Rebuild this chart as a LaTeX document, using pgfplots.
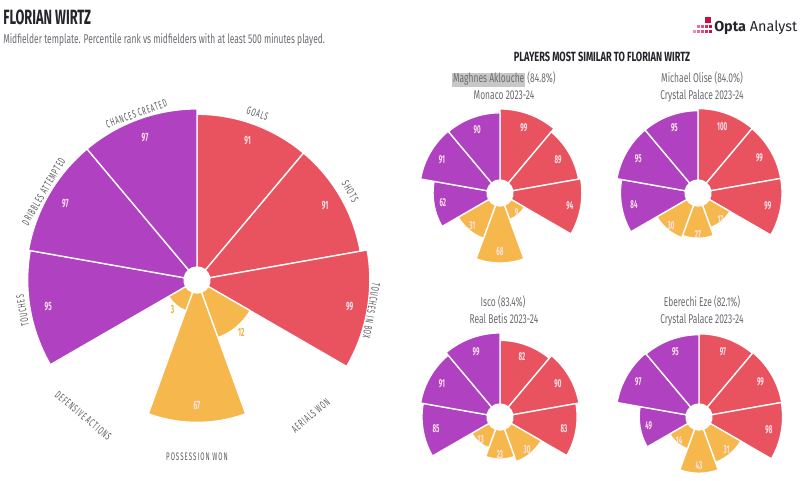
\documentclass[border=0pt]{standalone}
\usepackage{pgfplots}
\pgfplotsset{compat=1.18}
\usepackage{pgfplotstable}
\usepackage{fontspec}
\setmainfont{Fira Sans}
\newfontfamily\condf[FakeStretch=0.66]{Fira Sans}
\newfontfamily\boldf[FakeStretch=0.62]{Fira Sans}
\newfontfamily\hdf[FakeStretch=0.69]{Fira Sans}
\newfontfamily\numf[FakeStretch=0.54]{Fira Sans}
\newfontfamily\catf[FakeStretch=0.56, LetterSpace=9, Kerning=Off]{Fira Sans}
\definecolor{wred}{HTML}{E9535F}
\definecolor{wpur}{HTML}{B042C1}
\definecolor{wyel}{HTML}{F6B84D}
\definecolor{wlab}{HTML}{FBE3EC}
\definecolor{wout}{HTML}{F2B03F}
\definecolor{wgray}{HTML}{6E6A72}
\definecolor{wcat}{HTML}{5A595F}
\definecolor{wdark}{HTML}{26242B}
\definecolor{lgA}{HTML}{C8103E}
\definecolor{lgB}{HTML}{D92A5C}
\definecolor{lgC}{HTML}{E84C80}
\definecolor{lgD}{HTML}{F06A9A}
\definecolor{lgE}{HTML}{F48CB2}

% a = start angle (polar deg), t = label angle, v = percentile,
% c = group (0 attack, 1 possession, 2 creation), lr = label radius (px), tc = label colour (0 light, 1 yellow)
\pgfplotstableread{
a t v c lr tc
50 70 91 0 148 0
10 30 91 0 148 0
-30 -10 99 0 155 0
-70 -50 12 1 69 1
-110 -90 67 1 125 0
-150 -130 3 1 38 1
170 190 95 2 151 0
130 150 97 2 152 0
90 110 97 2 152 0
}\tabW

\pgfplotstableread{
t rot lab
70 -20 {GOALS}
30 -60 {SHOTS}
-10 -100 {TOUCHES IN BOX}
-50 40 {AERIALS WON}
-90 0 {POSSESSION WON}
-130 -40 {DEFENSIVE ACTIONS}
190 100 {TOUCHES}
150 60 {DRIBBLES ATTEMPTED}
110 20 {CHANCES CREATED}
}\tabCat

% Maghnes Aklouche
\pgfplotstableread{
a t v c lr tc
50 70 99 0 70 0
10 30 89 0 67 0
-30 -10 94 0 71 0
-70 -50 9 1 26 0
-110 -90 68 1 59 0
-150 -130 31 1 43 0
170 190 62 2 58 0
130 150 91 2 67 0
90 110 90 2 67 0
}\tabA

% Michael Olise
\pgfplotstableread{
a t v c lr tc
50 70 100 0 71 0
10 30 99 0 71 0
-30 -10 99 0 71 0
-70 -50 17 1 35 0
-110 -90 27 1 42 0
-150 -130 30 1 42 0
170 190 84 2 65 0
130 150 95 2 69 0
90 110 95 2 69 0
}\tabB

% Isco
\pgfplotstableread{
a t v c lr tc
50 70 82 0 64 0
10 30 90 0 67 0
-30 -10 83 0 65 0
-70 -50 30 1 42 0
-110 -90 23 1 38 0
-150 -130 13 1 30 0
170 190 85 2 65 0
130 150 91 2 67 0
90 110 99 2 70 0
}\tabC

% Eberechi Eze
\pgfplotstableread{
a t v c lr tc
50 70 97 0 70 0
10 30 99 0 71 0
-30 -10 98 0 71 0
-70 -50 31 1 43 0
-110 -90 43 1 49 0
-150 -130 14 1 31 0
170 190 49 2 51 0
130 150 97 2 70 0
90 110 95 2 69 0
}\tabD

% a wedge mark: annular sector with area proportional to the percentile
\pgfdeclareplotmark{pizzawedge}{%
  \pgfmathsetmacro\rr{7.5*sqrt(1.69+\wk*\wv)}%
  \pgfmathsetmacro\wb{\wa+40}%
  \pgfmathsetmacro\lrr{0.75*\wlr}%
  \pgfmathtruncatemacro\ci{\wc}%
  \pgfmathtruncatemacro\ti{\wtc}%
  \pgfmathtruncatemacro\vi{\wv}%
  \ifcase\ci\def\fc{wred}\or\def\fc{wyel}\else\def\fc{wpur}\fi
  \ifcase\ti\def\tcol{wlab}\else\def\tcol{wout}\fi
  \pgfpathmoveto{\pgfpointpolar{\wa}{9.75pt}}%
  \pgfpathlineto{\pgfpointpolar{\wa}{\rr pt}}%
  \pgfpatharc{\wa}{\wb}{\rr pt}%
  \pgfpathlineto{\pgfpointpolar{\wb}{9.75pt}}%
  \pgfpatharc{\wb}{\wa}{9.75pt}%
  \pgfpathclose
  \pgfsetfillcolor{\fc}\pgfsetstrokecolor{white}\pgfsetlinewidth{1pt}%
  \pgfusepath{fill,stroke}%
  \pgftext[at=\pgfpointpolar{\wt}{\lrr pt}]{\color{\tcol}\valfont\vi}%
}

\pgfplotsset{
  pizzaax/.style={hide axis, clip=false, x=0.75pt, y=0.75pt, anchor=center, disabledatascaling,
    xmin=-#1, xmax=#1, ymin=-#1, ymax=#1},
  pizza/.style={
    only marks, mark=pizzawedge,
    visualization depends on={\thisrow{a}\as\wa},
    visualization depends on={\thisrow{t}\as\wt},
    visualization depends on={\thisrow{v}\as\wv},
    visualization depends on={\thisrow{c}\as\wc},
    visualization depends on={\thisrow{lr}\as\wlr},
    visualization depends on={\thisrow{tc}\as\wtc},
  },
}

\begin{document}
\begin{tikzpicture}[x=0.75pt, y=-0.75pt]
\fill[white] (0,0) rectangle (800,481);

% header
\node[anchor=base west, inner sep=0, text=wdark, font={\boldf\bfseries\fontsize{15.5}{17}\selectfont}] at (3,25) {FLORIAN WIRTZ};
\node[anchor=base west, inner sep=0, text=wgray, font={\condf\fontsize{9.6}{11}\selectfont}] at (3,44) {Midfielder template. Percentile rank vs midfielders with at least 500 minutes played.};

% logo
\fill[lgA] (705,17) rectangle (711,23);
\foreach \xx/\cc in {697/lgD,701/lgC,705/lgB,709/lgA} {\fill[\cc] (\xx,25) rectangle (\xx+2.6,27.6);}
\foreach \xx/\cc in {693/lgE,697/lgD,701/lgC,705/lgB,709/lgA} {\fill[\cc] (\xx,30) rectangle (\xx+2.6,32.6);}
\node[anchor=base west, inner sep=0, text=wdark, font={\fontsize{10.8}{12}\selectfont}] at (714,32) {\textbf{Opta} Analyst};

% right header
\node[anchor=base, inner sep=0, text=wdark, font={\hdf\bfseries\fontsize{10}{12}\selectfont}] at (602,62) {PLAYERS MOST SIMILAR TO FLORIAN WIRTZ};
\begin{scope}[every node/.style={anchor=base, inner sep=0, text=wgray, font={\condf\fontsize{9.6}{11}\selectfont}}]
\node at (504,83) {\setlength{\fboxsep}{0.6pt}\colorbox{black!22}{Maghnes Aklouche} (84.8\%)};
\node at (504,100) {Monaco 2023-24};
\node at (702,83) {Michael Olise (84.0\%)};
\node at (702,100) {Crystal Palace 2023-24};
\node at (503,306) {Isco (83.4\%)};
\node at (504,323) {Real Betis 2023-24};
\node at (702,306) {Eberechi Eze (82.1\%)};
\node at (702,323) {Crystal Palace 2023-24};
\end{scope}

% main pizza
\def\wk{3.0}
\def\valfont{\numf\bfseries\fontsize{9}{10}\selectfont}
\begin{axis}[pizzaax=185, at={(147.75pt,-210pt)}]
\addplot[pizza] table[x expr=0, y expr=0]{\tabW};
\addplot[data cs=polar, draw=none, mark=none, nodes near coords, point meta=explicit symbolic,
  visualization depends on={\thisrow{rot}\as\wrot},
  nodes near coords align=center,
  nodes near coords style={rotate=\wrot, text=wcat, inner sep=0pt, font={\catf\fontsize{8.2}{9}\selectfont}}]
  table[x=t, y expr=177, meta=lab]{\tabCat};
\end{axis}

% similar players
\def\wk{0.696}
\def\valfont{\numf\bfseries\fontsize{8.6}{9}\selectfont}
\begin{axis}[pizzaax=95, at={(375pt,-144.75pt)}]
\addplot[pizza] table[x expr=0, y expr=0]{\tabA};
\end{axis}
\begin{axis}[pizzaax=95, at={(523.5pt,-144.75pt)}]
\addplot[pizza] table[x expr=0, y expr=0]{\tabB};
\end{axis}
\begin{axis}[pizzaax=95, at={(375pt,-312.75pt)}]
\addplot[pizza] table[x expr=0, y expr=0]{\tabC};
\end{axis}
\begin{axis}[pizzaax=95, at={(524.25pt,-312.75pt)}]
\addplot[pizza] table[x expr=0, y expr=0]{\tabD};
\end{axis}

\pgfresetboundingbox
\path (0,0) rectangle (800,481);
\end{tikzpicture}
\end{document}
